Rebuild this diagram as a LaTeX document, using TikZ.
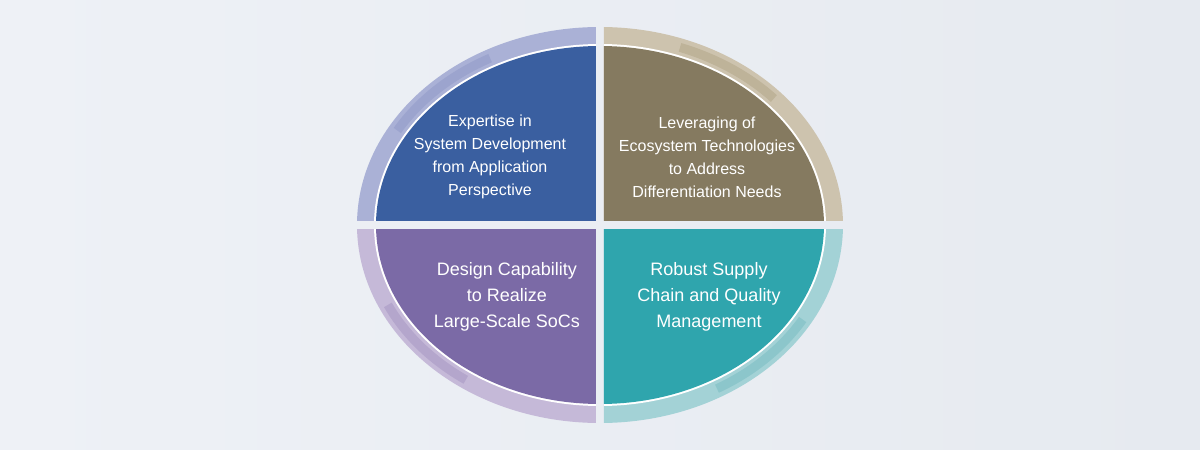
\documentclass[tikz,border=0pt]{standalone}
\usepackage{fontspec}
\setmainfont{Liberation Sans}
\begin{document}
\begin{tikzpicture}[x=1pt,y=1pt,
  lbl/.style={text=white,align=center,font=\fontsize{16}{23}\selectfont},
  lblb/.style={text=white,align=center,font=\fontsize{18}{26}\selectfont}]
\definecolor{bg}{HTML}{EEF1F6}
\definecolor{bg2}{HTML}{E6EAF0}
\definecolor{tlf}{HTML}{3A5FA0}\definecolor{tlr}{HTML}{AAB1D6}\definecolor{tla}{HTML}{9CA4CE}
\definecolor{trf}{HTML}{857A60}\definecolor{trr}{HTML}{CDC3AE}\definecolor{tra}{HTML}{BEB399}
\definecolor{blf}{HTML}{7B6AA6}\definecolor{blr}{HTML}{C5B9D8}\definecolor{bla}{HTML}{B4A6CC}
\definecolor{brf}{HTML}{2FA5AD}\definecolor{brr}{HTML}{A3D2D6}\definecolor{bra}{HTML}{8CC6CB}
\shade[left color=bg,right color=bg2] (-600,-225) rectangle (600,225);
\useasboundingbox (-600,-225) rectangle (600,225);
\foreach \sx/\sy/\fc/\rc/\ac/\aa/\ab in {-1/1/tlf/tlr/tla/118/150, 1/1/trf/trr/tra/42/70, -1/-1/blf/blr/bla/205/235, 1/-1/brf/brr/bra/300/330}{
  \begin{scope}
    \clip (4*\sx,4*\sy) rectangle (260*\sx,220*\sy);
    \fill[\rc] (0,0) ellipse[x radius=243,y radius=198];
    \draw[\ac,line width=9] (\aa:234 and 189) arc[start angle=\aa,end angle=\ab,x radius=234,y radius=189];
    \fill[white] (0,0) ellipse[x radius=226,y radius=181];
    \fill[\fc] (0,0) ellipse[x radius=224,y radius=179];
  \end{scope}
}
\node[lbl] (tl) at (-110,68) {Expertise in\\System Development\\from Application\\Perspective};
\node[lbl] (tr) at (107,68) {Leveraging of\\Ecosystem Technologies\\to Address\\Differentiation Needs};
\node[lblb] (bl) at (-93,-72) {Design Capability\\to Realize\\Large-Scale SoCs};
\node[lblb] (br) at (109,-72) {Robust Supply\\Chain and Quality\\Management};
\end{tikzpicture}
\end{document}
